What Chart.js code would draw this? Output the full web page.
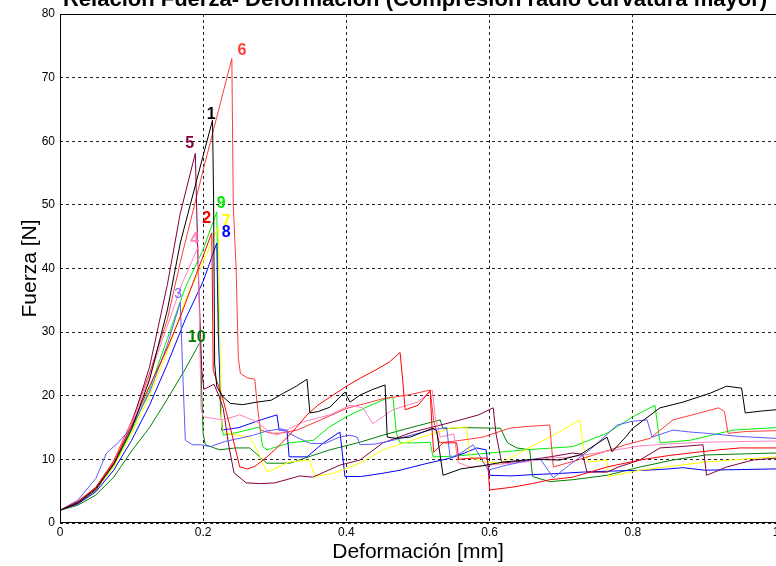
<!DOCTYPE html>
<html>
<head>
<meta charset="utf-8">
<script src="https://cdn.jsdelivr.net/npm/chart.js@4"></script>
<style>
  html, body { margin: 0; padding: 0; background: #fff; overflow: hidden; }
  #wrap { width: 800px; height: 566px; }
</style>
</head>
<body>
<div id="wrap"><canvas id="fuerza" width="800" height="566"></canvas></div>
<script>
// Relación fuerza - deformación, 10 probetas (pares [deformación mm, fuerza N])
const titleText = "Relación Fuerza- Deformación (Compresión radio curvatura mayor)";
const xTicks = [0, 0.2, 0.4, 0.6, 0.8, 1];
const yTicks = [0, 10, 20, 30, 40, 50, 60, 70, 80];

const curve1 = [[0,2],[0.025,3.2],[0.05,5.4],[0.075,9.2],[0.1,14.8],[0.125,22.5],[0.15,33.5],[0.168,44],[0.19,53.5],[0.213,63.3],[0.2145,51],[0.216,25],[0.219,21.4],[0.228,19.8],[0.238,18.8],[0.255,18.6],[0.275,19],[0.295,19.3],[0.312,20.4],[0.33,21.5],[0.345,22.6],[0.349,17.3],[0.36,17.5],[0.377,18.2],[0.398,20.6],[0.405,19],[0.419,20.1],[0.437,21],[0.454,21.7],[0.457,13.5],[0.47,13.3],[0.489,13.5],[0.505,14.2],[0.521,14.9],[0.526,14.5],[0.535,7.5],[0.56,8.5],[0.59,9],[0.62,9.6],[0.66,10],[0.698,9.9],[0.726,10.7],[0.764,13.5],[0.771,11.2],[0.79,13.5],[0.8,14.9],[0.838,18.1],[0.87,19],[0.908,20.4],[0.931,21.5],[0.952,21.2],[0.957,17.3],[0.98,17.6],[1,17.8]];
const curve2 = [[0,2],[0.025,3.4],[0.05,5.6],[0.075,9.5],[0.1,15.2],[0.125,21.5],[0.15,27.5],[0.168,32.4],[0.19,39],[0.212,45.6],[0.214,24],[0.22,22],[0.228,19.3],[0.24,14],[0.251,8.8],[0.262,8.5],[0.272,8.9],[0.285,10],[0.3,11.5],[0.315,13.2],[0.33,15],[0.345,17],[0.36,18.5],[0.38,20],[0.4,21.5],[0.42,22.8],[0.44,24],[0.46,25.3],[0.475,26.8],[0.479,22],[0.482,17.8],[0.5,18.5],[0.517,20.8],[0.52,14],[0.522,11.1],[0.535,12.6],[0.554,12.6],[0.557,10],[0.575,10.2],[0.597,10.2],[0.6,5.2],[0.63,5.6],[0.66,6.2],[0.684,6.8],[0.716,7.2],[0.764,8.8],[0.81,9.9],[0.85,10.6],[0.88,11],[0.92,11.5],[0.95,11.8],[1,11.8]];
const curve3 = [[0,2],[0.025,3.6],[0.05,7],[0.065,11],[0.08,12.5],[0.1,15],[0.125,20.5],[0.15,28],[0.168,34.7],[0.171,25],[0.175,13],[0.185,12.3],[0.196,12.3],[0.21,12],[0.23,12.8],[0.25,13.3],[0.27,13.8],[0.29,14.5],[0.31,14.8],[0.33,13.5],[0.35,12.5],[0.37,12.5],[0.39,13.5],[0.405,13.8],[0.415,13.5],[0.419,12.3],[0.44,12.4],[0.465,13],[0.49,13.8],[0.517,14.6],[0.54,15],[0.545,10.2],[0.56,11],[0.577,12.3],[0.598,8.3],[0.62,9],[0.645,9.6],[0.67,10.2],[0.689,7.1],[0.71,9],[0.74,11.5],[0.76,13.5],[0.778,15.4],[0.8,16],[0.82,16.2],[0.827,13.5],[0.856,14.6],[0.88,14.3],[0.903,14.1],[0.95,13.6],[1,13.3]];
const curve4 = [[0,2],[0.025,3.3],[0.05,5.5],[0.075,9.5],[0.1,15.5],[0.125,23],[0.15,31],[0.17,37.5],[0.193,43.4],[0.195,30],[0.197,18],[0.2,16.7],[0.21,16.5],[0.228,16.2],[0.251,17],[0.275,15.9],[0.29,14.5],[0.303,13.8],[0.32,14.8],[0.34,15.9],[0.36,16.5],[0.377,17],[0.405,18.5],[0.423,18.1],[0.437,15.6],[0.465,17.8],[0.499,19],[0.52,20.9],[0.524,16.7],[0.531,13.5],[0.55,14],[0.556,9.5],[0.573,8.8],[0.61,9.2],[0.652,9.6],[0.684,10.2],[0.716,10.4],[0.76,11.2],[0.81,12.1],[0.86,12.5],[0.903,12.7],[1,12.9]];
const curve5 = [[0,2],[0.025,3.1],[0.05,5.2],[0.075,9.3],[0.1,15.5],[0.125,24.5],[0.15,37.5],[0.168,48.7],[0.189,58.1],[0.193,40],[0.198,24],[0.201,21],[0.215,21.8],[0.222,20],[0.228,18],[0.236,12],[0.243,7.9],[0.26,6.3],[0.28,6.2],[0.3,6.3],[0.335,7.4],[0.353,7.2],[0.391,9.1],[0.419,9.9],[0.451,12.6],[0.493,14.3],[0.525,15.2],[0.559,16.2],[0.585,17],[0.605,18.1],[0.609,14],[0.617,9.4],[0.65,9.8],[0.69,10.5],[0.716,11],[0.73,10.8],[0.736,8],[0.764,8],[0.78,8.8],[0.81,9.9],[0.838,11.8],[0.866,12],[0.898,12.3],[0.903,7.5],[0.931,8.8],[0.968,9.9],[1,10.2]];
const curve6 = [[0,2],[0.025,3.3],[0.05,5.6],[0.075,9.8],[0.1,16],[0.125,23.5],[0.15,32],[0.168,41],[0.2,55.5],[0.24,73],[0.242,50],[0.246,40],[0.249,26],[0.252,23.5],[0.262,22.8],[0.272,22.6],[0.276,18],[0.28,14.6],[0.295,14.1],[0.307,14.1],[0.331,14.6],[0.36,16],[0.4,18],[0.45,19.5],[0.49,20.2],[0.517,20.9],[0.522,16],[0.53,12.6],[0.56,13],[0.591,13.5],[0.628,14.9],[0.655,15.2],[0.684,15.4],[0.689,8.8],[0.72,9.8],[0.76,11.2],[0.79,12.3],[0.824,13.3],[0.856,16.2],[0.89,17.2],[0.92,18.1],[0.928,17.5],[0.933,14.1],[0.96,14.4],[1,14.5]];
const curve7 = [[0,2],[0.025,3.2],[0.05,5.2],[0.075,8.8],[0.1,14],[0.125,20],[0.15,27],[0.175,35],[0.2,41],[0.221,46.5],[0.223,30],[0.226,15],[0.231,14.1],[0.25,13.8],[0.265,13.5],[0.275,11.5],[0.289,8],[0.305,8.8],[0.321,9.6],[0.349,9.9],[0.356,7.3],[0.382,7.8],[0.419,9.4],[0.451,11.5],[0.5,13.3],[0.545,14.9],[0.568,15.1],[0.572,10.4],[0.59,9.6],[0.615,9.4],[0.65,11.5],[0.67,12.7],[0.7,14.5],[0.726,16.2],[0.731,12],[0.737,9.6],[0.764,9.9],[0.766,7.3],[0.81,8.3],[0.86,9],[0.903,9.6],[0.95,10],[1,10.4]];
const curve8 = [[0,2],[0.025,3],[0.05,4.9],[0.075,8.3],[0.1,13],[0.125,18.5],[0.15,25],[0.175,32],[0.2,38],[0.219,44],[0.221,30],[0.226,14.6],[0.25,15],[0.275,16],[0.303,17],[0.306,14.6],[0.317,14.6],[0.32,10.4],[0.345,10.4],[0.368,12.6],[0.391,14.3],[0.398,7.3],[0.42,7.3],[0.45,7.8],[0.475,8.3],[0.51,9.3],[0.545,10.2],[0.565,11],[0.582,11.8],[0.595,11.5],[0.6,7.5],[0.63,7.4],[0.66,7.6],[0.7,7.8],[0.73,8],[0.78,8.2],[0.82,8.3],[0.85,8.5],[0.87,8.7],[0.9,8.3],[0.95,8.4],[1,8.5]];
const curve9 = [[0,2],[0.025,3.1],[0.05,5.1],[0.075,8.9],[0.1,14.5],[0.125,21],[0.15,29],[0.175,37],[0.2,43],[0.219,48.9],[0.221,35],[0.224,18],[0.228,13.8],[0.25,14.3],[0.279,15.1],[0.283,12],[0.289,11.5],[0.321,12.6],[0.354,13],[0.375,15],[0.4,16.7],[0.43,18.3],[0.456,19.6],[0.465,19.8],[0.47,14],[0.475,12.6],[0.5,12.6],[0.517,12.7],[0.521,10.4],[0.55,10.5],[0.6,11],[0.65,11.5],[0.716,12],[0.764,14.1],[0.8,16.7],[0.831,18.5],[0.835,15],[0.838,12.6],[0.88,13],[0.94,14.6],[1,15]];
const curve10 = [[0,2],[0.025,2.8],[0.05,4.4],[0.075,7.2],[0.1,11.3],[0.125,15],[0.15,19.5],[0.175,24.2],[0.196,28.5],[0.198,20],[0.2,14],[0.203,12.3],[0.223,11.5],[0.245,11.8],[0.265,11.8],[0.278,10.5],[0.289,9.4],[0.321,9.4],[0.35,10.5],[0.377,11.5],[0.419,12.7],[0.451,13.8],[0.49,15],[0.531,16.2],[0.535,14.8],[0.56,15],[0.61,14.9],[0.615,14.9],[0.625,12.6],[0.638,11.8],[0.656,11.5],[0.66,7.3],[0.684,6.5],[0.716,6.8],[0.764,7.5],[0.81,8.8],[0.856,9.9],[0.903,10.7],[1,11]];

// etiquetas de cada curva (texto, deformación, fuerza)
const tagText = ["1", "2", "3", "4", "5", "6", "7", "8", "9", "10"];
const tagX = [0.211, 0.205, 0.165, 0.188, 0.181, 0.254, 0.232, 0.232, 0.225, 0.191];
const tagY = [64.2, 47.8, 36, 44.5, 59.7, 74.2, 47.3, 45.6, 50.2, 29.1];

const colors = ["#000000", "#ff0000", "#5c5cff", "#ff80c0", "#800040",
                "#ff3a3a", "#ffff00", "#0000ff", "#00ee00", "#008000"];
const curves = [curve1, curve2, curve3, curve4, curve5, curve6, curve7, curve8, curve9, curve10];

const datasets = curves.map((c, i) => ({
  label: tagText[i],
  data: c.map(p => ({x: p[0], y: p[1]})),
  borderColor: colors[i],
  borderWidth: 1,
  pointRadius: 0,
  fill: false,
  tension: 0
}));

// titulo, marco y etiquetas numeradas
const extras = {
  id: "extras",
  afterDatasetsDraw(chart) {
    const {ctx, chartArea: a, scales: {x, y}} = chart;
    ctx.save();
    ctx.strokeStyle = "#000";
    ctx.lineWidth = 1;
    ctx.strokeRect(a.left + 0.5, a.top + 0.5, a.right - a.left, a.bottom - a.top - 1);

    ctx.textAlign = "center";
    ctx.textBaseline = "middle";
    tagText.forEach((t, i) => {
      ctx.font = t === "3" ? "14px Arial" : "bold 16px Arial";
      ctx.fillStyle = t === "3" ? "#6a6aff" : colors[i];
      ctx.fillText(t, x.getPixelForValue(tagX[i]), y.getPixelForValue(tagY[i]));
    });

    ctx.fillStyle = "#000";
    ctx.font = "bold 22px Arial";
    ctx.textBaseline = "alphabetic";
    ctx.fillText(titleText, 415, 6);
    ctx.restore();
  }
};

new Chart(document.getElementById("fuerza"), {
  type: "line",
  data: { datasets },
  plugins: [extras],
  options: {
    responsive: false,
    animation: false,
    layout: { padding: { top: 14, right: 24, left: 0, bottom: 0 } },
    plugins: { legend: { display: false }, tooltip: { enabled: false }, title: { display: false } },
    scales: {
      x: {
        type: "linear",
        min: 0, max: 1,
        afterBuildTicks: s => { s.ticks = xTicks.map(v => ({value: v})); },
        afterFit: s => { s.height = 43; },
        ticks: { color: "#000", font: { family: "Arial", size: 12 }, padding: 2,
                 callback: v => String(+v.toFixed(1)) },
        grid: { color: "#222", lineWidth: 1, drawTicks: false },
        border: { display: false, dash: [3, 3] },
        title: { display: true, text: "Deformación [mm]", color: "#000",
                 font: { family: "Arial", size: 21 }, padding: { top: 0, bottom: 1 } }
      },
      y: {
        min: 0, max: 80,
        afterBuildTicks: s => { s.ticks = yTicks.map(v => ({value: v})); },
        afterFit: s => { s.width = 60; },
        ticks: { color: "#000", font: { family: "Arial", size: 12 }, padding: 5 },
        grid: { color: "#222", lineWidth: 1, drawTicks: false },
        border: { display: false, dash: [3, 3] },
        title: { display: true, text: "Fuerza [N]", color: "#000",
                 font: { family: "Arial", size: 21 }, padding: { top: 18, bottom: 0 } }
      }
    }
  }
});
</script>
</body>
</html>
